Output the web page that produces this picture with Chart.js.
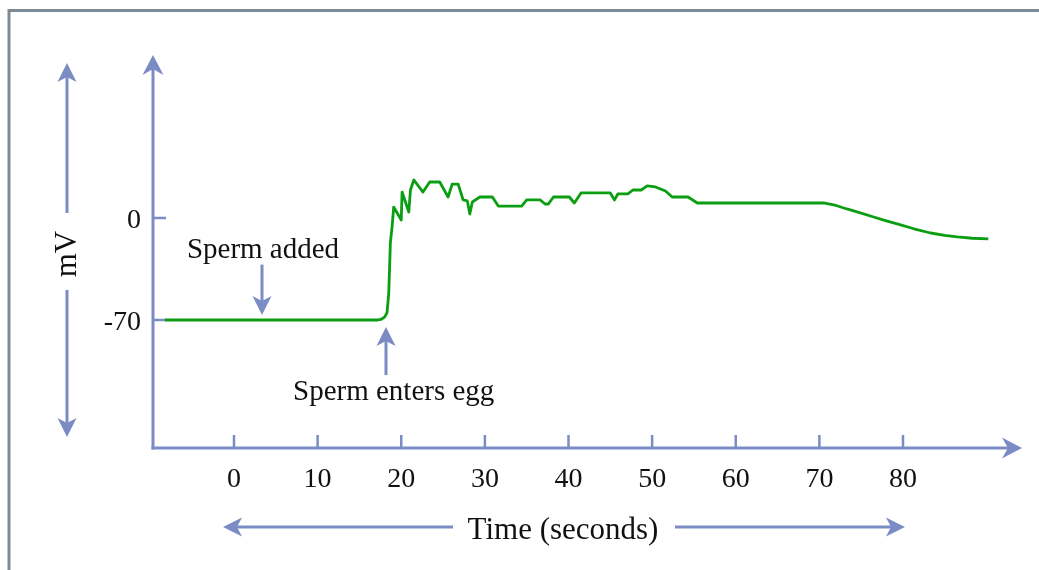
<!DOCTYPE html>
<html>
<head>
<meta charset="utf-8">
<script src="https://cdn.jsdelivr.net/npm/chart.js@4.4.1/dist/chart.umd.min.js"></script>
<style>
  html, body { margin: 0; padding: 0; background: #ffffff; }
  #wrap { width: 1039px; height: 570px; position: relative; }
</style>
</head>
<body>
<div id="wrap"><canvas id="c" width="1039" height="570"></canvas></div>
<script>
// ---- data (time in seconds, membrane potential in mV) ----
const timeValues = [-8.25, 17.2, 17.6, 18.0, 18.3, 18.5, 18.6, 18.7, 18.9, 19.1, 20.0, 20.1, 20.9, 21.1, 21.5, 22.6, 23.4, 24.6, 25.6, 26.1, 26.8, 27.4, 27.9, 28.2, 28.5, 29.4, 30.9, 31.6, 34.4, 35.0, 36.6, 37.2, 37.6, 38.2, 40.1, 40.7, 41.5, 45.0, 45.5, 45.9, 47.1, 47.7, 48.7, 49.4, 50.4, 51.6, 52.4, 54.3, 55.4, 70.5, 72.0, 73.3, 74.8, 76.3, 77.8, 79.3, 81.3, 83.3, 85.0, 86.5, 88.3, 90.2];
const mvValues   = [-70, -70, -69.5, -68, -65, -52, -35, -17, -6.2, 7.5, -1.4, 17.8, 4.1, 19.2, 26.1, 17.8, 24.7, 24.7, 14.4, 23.3, 23.3, 12.4, 11.7, 2.7, 11.0, 14.4, 14.4, 8.2, 8.2, 12.4, 12.4, 9.6, 9.6, 14.4, 14.4, 10.3, 17.2, 17.2, 12.4, 16.5, 16.5, 19.2, 19.2, 22.0, 21.3, 18.5, 14.4, 14.4, 10.3, 10.3, 8.6, 6.2, 3.7, 1.0, -1.6, -4.1, -7.4, -10.3, -11.9, -13.0, -13.9, -14.4];
const xTickValues = [0, 10, 20, 30, 40, 50, 60, 70, 80];
const xTickLabels = ['0', '10', '20', '30', '40', '50', '60', '70', '80'];
const yTickValues = [0, -70];
const yTickLabels = ['0', '-70'];
const xRange = [-9.686, 94.23];
const yRange = [-157.85, 111.86];
const annotations = [
  { text: 'Sperm added', t: 3.35, vFrom: -32, vTo: -66.6, dir: 'down' },
  { text: 'Sperm enters egg', t: 18.2, vFrom: -107.8, vTo: -74.8, dir: 'up' }
];
const yTitle = 'mV';
const xTitle = 'Time (seconds)';

const AXIS = '#7b8bc4';
const SERIF = '"Liberation Serif", "Times New Roman", serif';

function arrowHead(ctx, x, y, angle, len, half, notch) {
  ctx.save();
  ctx.translate(x, y);
  ctx.rotate(angle);
  ctx.beginPath();
  ctx.moveTo(0, 0);
  ctx.lineTo(-len, -half);
  ctx.lineTo(-len + notch, 0);
  ctx.lineTo(-len, half);
  ctx.closePath();
  ctx.fill();
  ctx.restore();
}
function arrowLine(ctx, x1, y1, x2, y2) {
  const ang = Math.atan2(y2 - y1, x2 - x1);
  const len = 19, half = 9.5, notch = 5;
  ctx.beginPath();
  ctx.moveTo(x1, y1);
  ctx.lineTo(x2 - Math.cos(ang) * (len - notch - 1), y2 - Math.sin(ang) * (len - notch - 1));
  ctx.stroke();
  arrowHead(ctx, x2, y2, ang, len, half, notch);
}

const decor = {
  id: 'decor',
  beforeDatasetsDraw(chart) {
    const ctx = chart.ctx;
    const xs = chart.scales.x, ys = chart.scales.y;
    const a = chart.chartArea;
    ctx.save();
    // frame
    ctx.strokeStyle = '#7d8b97';
    ctx.lineWidth = 3;
    ctx.beginPath();
    ctx.moveTo(9, 570);
    ctx.lineTo(9, 10.5);
    ctx.lineTo(1039, 10.5);
    ctx.stroke();

    ctx.strokeStyle = AXIS;
    ctx.fillStyle = AXIS;
    ctx.lineWidth = 3;
    ctx.lineCap = 'butt';
    // axes with arrows
    const ax = a.left, ay = a.bottom;
    ctx.beginPath();
    ctx.moveTo(ax, ay + 1.5);
    ctx.lineTo(ax, a.top + 12);
    ctx.stroke();
    arrowHead(ctx, ax, a.top, -Math.PI / 2, 20, 10.5, 6);
    ctx.beginPath();
    ctx.moveTo(ax - 1.5, ay);
    ctx.lineTo(a.right - 12, ay);
    ctx.stroke();
    arrowHead(ctx, a.right, ay, 0, 20, 10.5, 6);

    // ticks
    ctx.lineWidth = 2.5;
    xTickValues.forEach(v => {
      const px = xs.getPixelForValue(v);
      ctx.beginPath();
      ctx.moveTo(px, ay);
      ctx.lineTo(px, ay - 13);
      ctx.stroke();
    });
    yTickValues.forEach(v => {
      const py = ys.getPixelForValue(v);
      ctx.beginPath();
      ctx.moveTo(ax, py);
      ctx.lineTo(ax + 13, py);
      ctx.stroke();
    });

    // tick labels
    ctx.fillStyle = '#111111';
    ctx.font = '28px ' + SERIF;
    ctx.textBaseline = 'alphabetic';
    ctx.textAlign = 'center';
    xTickValues.forEach((v, i) => {
      ctx.fillText(xTickLabels[i], xs.getPixelForValue(v), ay + 39);
    });
    ctx.textAlign = 'right';
    yTickValues.forEach((v, i) => {
      ctx.fillText(yTickLabels[i], ax - 12, ys.getPixelForValue(v) + 10);
    });

    // x title with double arrow
    ctx.font = '31px ' + SERIF;
    ctx.textAlign = 'center';
    ctx.fillText(xTitle, 563, 539);
    ctx.strokeStyle = AXIS;
    ctx.fillStyle = AXIS;
    ctx.lineWidth = 3;
    arrowLine(ctx, 453, 527, 223, 527);
    arrowLine(ctx, 675, 527, 905, 527);

    // y title with double arrow
    ctx.save();
    ctx.translate(67, 254);
    ctx.rotate(-Math.PI / 2);
    ctx.fillStyle = '#111111';
    ctx.font = '31px ' + SERIF;
    ctx.textAlign = 'center';
    ctx.textBaseline = 'middle';
    ctx.fillText(yTitle, 0, 1);
    ctx.restore();
    arrowLine(ctx, 67, 213, 67, 63);
    arrowLine(ctx, 67, 290, 67, 437);

    // annotations
    annotations.forEach(an => {
      const px = Math.round(xs.getPixelForValue(an.t));
      const y1 = ys.getPixelForValue(an.vFrom);
      const y2 = ys.getPixelForValue(an.vTo);
      ctx.strokeStyle = AXIS;
      ctx.fillStyle = AXIS;
      arrowLine(ctx, px, y1, px, y2);
      ctx.fillStyle = '#111111';
      ctx.font = '29px ' + SERIF;
      ctx.textBaseline = 'alphabetic';
      if (an.dir === 'down') {
        ctx.textAlign = 'center';
        ctx.fillText(an.text, px + 1, y1 - 7);
      } else {
        ctx.textAlign = 'left';
        ctx.fillText(an.text, px - 93, y1 + 25);
      }
    });
    ctx.restore();
  }
};

const points = timeValues.map((t, i) => ({ x: t, y: mvValues[i] }));

new Chart(document.getElementById('c'), {
  type: 'line',
  data: {
    datasets: [{
      data: points,
      borderColor: '#0c9e12',
      borderWidth: 2.8,
      pointRadius: 0,
      tension: 0,
      fill: false,
      borderJoinStyle: 'round'
    }]
  },
  options: {
    responsive: false,
    animation: false,
    devicePixelRatio: 1,
    layout: { padding: { left: 153, right: 17, top: 55, bottom: 122 } },
    plugins: { legend: { display: false }, tooltip: { enabled: false }, title: { display: false } },
    scales: {
      x: { type: 'linear', min: xRange[0], max: xRange[1], display: false },
      y: { type: 'linear', min: yRange[0], max: yRange[1], display: false }
    }
  },
  plugins: [decor]
});
</script>
</body>
</html>
